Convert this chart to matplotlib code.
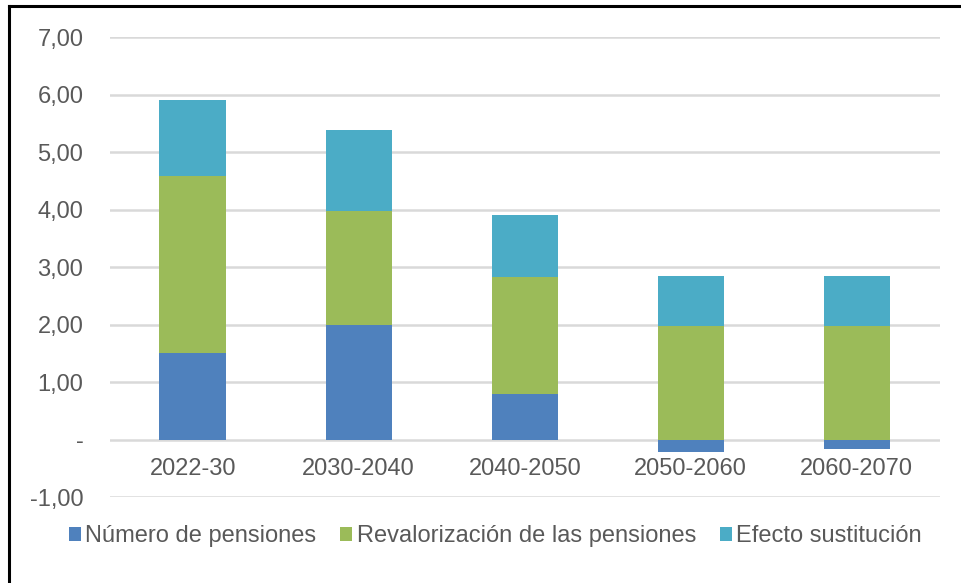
import matplotlib.pyplot as plt
import numpy as np
from matplotlib.lines import Line2D
from matplotlib.ticker import FuncFormatter

plt.rcParams['font.family'] = ['Liberation Sans', 'DejaVu Sans']

periods = ['2022-30', '2030-2040', '2040-2050', '2050-2060', '2060-2070']
numero = [1.50, 2.00, 0.80, -0.22, -0.17]
revalorizacion = [3.09, 1.98, 2.02, 1.98, 1.98]
sustitucion = [1.32, 1.41, 1.08, 0.87, 0.87]

series = ['Número de pensiones', 'Revalorización de las pensiones', 'Efecto sustitución']
colors = ['#4f81bd', '#9bbb59', '#4bacc6']
yticks = [-1, 0, 1, 2, 3, 4, 5, 6, 7]

fig = plt.figure(figsize=(9.62, 5.83), dpi=100)
ax = fig.add_axes([0.114, 0.1475, 0.863, 0.789])

x = np.arange(len(periods))
pos_base = np.zeros(len(periods))
neg_base = np.zeros(len(periods))
for vals, lab, col in zip([numero, revalorizacion, sustitucion], series, colors):
    v = np.array(vals)
    base = np.where(v >= 0, pos_base, neg_base)
    ax.bar(x, v, 0.4, bottom=base, color=col, label=lab, zorder=3)
    pos_base = pos_base + np.where(v >= 0, v, 0)
    neg_base = neg_base + np.where(v < 0, v, 0)

ax.set_xlim(-0.5, len(periods) - 0.5)
ax.set_ylim(-1, 7)
ax.set_yticks(yticks)
ax.yaxis.set_major_formatter(FuncFormatter(
    lambda v, p: '-' if v == 0 else ('%.2f' % v).replace('.', ',')))
ax.tick_params(axis='y', length=0, pad=19, labelsize=17, labelcolor='#595959')
ax.set_xticks([])
ax.grid(axis='y', color='#d9d9d9', linewidth=1.8, zorder=0)
for s in ax.spines.values():
    s.set_visible(False)

for xi, p in zip(x, periods):
    ax.annotate(p, (xi, 0), xytext=(0, -29), textcoords='offset pixels',
                ha='center', va='center', fontsize=17, color='#595959')

fig.legend(loc='center', bbox_to_anchor=(0.515, 0.08), ncol=3, frameon=False,
           fontsize=17, labelcolor='#595959', handlelength=0.5, handleheight=0.5,
           handletextpad=0.2, columnspacing=1.0)

# partial frame around the image (top and left)
fig.add_artist(Line2D([0.009, 1.0], [0.989, 0.989], color='black', linewidth=2.2,
                      transform=fig.transFigure))
fig.add_artist(Line2D([0.009, 0.009], [0.0, 0.989], color='black', linewidth=2.2,
                      transform=fig.transFigure))

fig.savefig('out.png', dpi=100)
